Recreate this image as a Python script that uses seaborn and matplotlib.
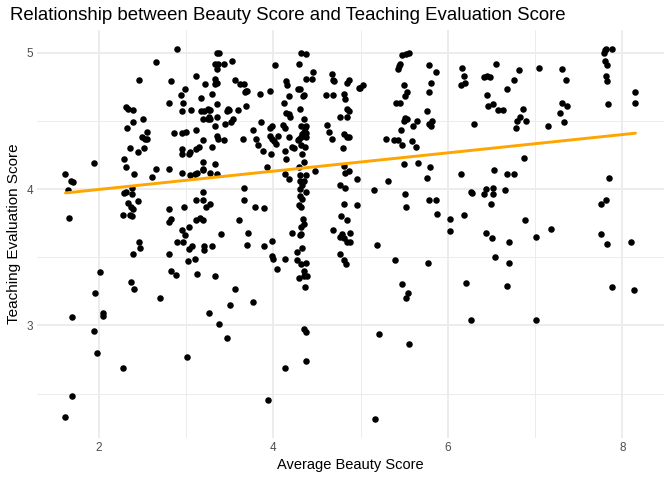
import numpy as np
import pandas as pd
import seaborn as sns
import matplotlib.pyplot as plt
from matplotlib.ticker import MultipleLocator

# average beauty score (x) and teaching evaluation score (y)
beauty = [
    # upper left
    2.90, 2.66, 2.46, 2.83, 3.12, 3.22, 2.99, 2.94, 3.17, 2.80, 2.97, 2.31, 2.34, 2.39, 2.96, 3.06, 3.17,
    3.21, 3.26, 2.51, 2.39, 3.19, 3.25, 2.32, 2.55, 2.50, 2.53, 2.55, 2.86, 2.95, 3.00, 3.12, 3.20, 2.36,
    2.52, 2.45, 2.95, 2.95, 3.03, 3.05, 3.11, 3.15, 2.29, 1.95, 2.31, 2.66, 2.80, 3.19, 3.20,
    # upper middle
    3.35, 3.38, 3.33, 3.37, 3.44, 3.53, 3.35, 4.02, 4.32, 4.37, 4.30, 4.46, 4.38, 4.44, 4.67, 4.69, 4.70, 4.84, 4.87, 4.98,
    3.33, 3.35, 3.33, 3.56, 3.62, 3.67, 3.30, 3.69, 3.70, 3.68, 3.85, 3.96, 4.15, 4.16, 4.28, 4.31, 4.18, 4.35, 4.34, 4.60, 4.69, 4.81, 4.82,
    3.36, 3.25, 3.28, 3.48, 3.49, 3.47, 3.60, 3.69, 4.12, 4.15, 4.18, 4.19, 4.31, 4.85, 4.87, 4.85, 4.77,
    3.26, 3.28, 3.35, 3.45, 3.52, 3.54, 3.33, 3.86, 3.98, 3.96, 4.11, 4.13, 4.35, 4.32, 4.36, 4.38, 4.62, 4.64,
    3.36, 3.37, 3.44, 3.65, 3.77, 3.80, 3.83, 3.88, 3.96, 3.98, 4.01, 4.03, 4.05, 4.13, 4.18, 4.22, 4.24,
    4.28, 4.30, 4.33, 4.35, 4.32, 4.37, 4.38, 4.32, 4.36, 3.97, 4.15, 4.33, 4.35, 4.67, 4.81, 4.84, 4.87, 4.80, 3.30, 3.33, 3.93, 4.81,
    # upper right
    5.48, 5.52, 5.55, 5.44, 5.45, 5.43, 5.79, 5.87, 6.16, 6.18, 6.20, 6.15, 6.55, 6.42, 6.45, 6.48, 6.68,
    4.99, 5.03, 5.50, 5.53, 5.51, 5.81, 5.79, 5.41, 5.45, 6.45, 6.46, 6.52, 6.58, 6.63, 5.76,
    5.51, 5.53, 5.50, 5.65, 5.60, 5.78, 5.82, 5.81, 6.30, 5.46, 5.29, 5.38, 5.43, 5.47, 5.59, 5.64, 5.50, 5.66, 5.80, 6.53,
    7.80, 7.81, 7.88, 7.79, 7.80, 7.82, 7.81, 7.82, 7.83, 8.15, 8.14, 7.04, 7.31, 7.35,
    6.82, 6.76, 7.31, 7.36, 7.28, 7.33, 7.15, 6.86, 6.79, 6.83, 6.89, 6.78, 6.87,
    # middle left
    1.62, 1.68, 1.71, 1.65, 1.66, 2.40, 2.96, 2.61, 3.05, 3.10, 3.13, 3.20, 2.38, 2.29, 2.31, 2.38, 2.34, 2.45, 2.37, 2.39,
    2.28, 2.36, 2.38, 2.80, 2.98, 2.83, 2.81, 3.19, 3.12, 3.19, 3.23, 3.11, 3.16, 3.19, 2.95, 2.99, 3.04, 2.90,
    2.97, 3.03, 3.07, 3.21, 3.21, 2.46, 2.47, 2.39, 2.81, 3.02, 3.10, 2.01, 2.83, 2.89, 3.13, 2.37, 2.40, 1.96,
    # middle
    3.28, 3.35, 4.13, 4.18, 4.29, 4.31, 4.37, 4.31, 4.35, 4.33, 4.31, 4.38, 4.31, 4.33, 4.29, 4.32,
    4.48, 4.82, 4.87, 4.96, 4.76, 4.82, 3.67, 3.66, 3.79, 3.89, 3.27, 3.61, 3.40, 3.71, 3.30, 3.70, 3.89, 3.98,
    3.99, 4.00, 4.14, 4.04, 4.34, 4.35, 4.32, 4.21, 4.32, 4.31, 4.33, 4.27, 4.27, 4.32, 4.37, 4.35, 4.30, 4.35, 4.39, 4.36,
    3.33, 3.56, 4.69, 4.79, 4.76, 4.81, 4.88, 4.85, 4.88, 4.78, 4.84, 4.81, 4.96, 4.76, 4.81, 4.83,
    # middle right
    5.32, 5.76, 6.15, 6.68, 5.15, 5.51, 5.52, 5.78, 5.87, 5.88, 6.26, 6.28, 6.44, 6.52, 6.42, 6.52, 6.66,
    6.49, 6.03, 6.18, 6.02, 6.44, 6.51, 6.70, 5.19, 5.39, 5.77, 6.54, 6.70, 5.47, 5.54, 6.21, 6.68,
    6.76, 7.85, 7.75, 7.81, 6.88, 7.18, 7.01, 7.76, 7.82, 8.10, 7.88, 8.13,
    # bottom
    2.70, 1.70, 2.05, 2.05, 3.26, 1.95, 1.98, 3.01, 2.28, 1.69, 1.62,
    3.50, 3.77, 3.38, 3.47, 4.35, 4.38, 4.38, 4.14, 3.94, 5.52, 6.27, 5.21, 5.56, 5.16, 7.01,
]

score = [
    # upper left
    5.03, 4.93, 4.80, 4.79, 4.83, 4.77, 4.73, 4.69, 4.67, 4.63, 4.63, 4.60, 4.59, 4.58, 4.57, 4.58, 4.57,
    4.57, 4.58, 4.51, 4.49, 4.51, 4.51, 4.45, 4.42, 4.38, 4.37, 4.37, 4.41, 4.41, 4.42, 4.43, 4.36, 4.30,
    4.30, 4.27, 4.29, 4.26, 4.26, 4.27, 4.29, 4.31, 4.22, 4.19, 4.16, 4.15, 4.15, 4.20, 4.15,
    # upper middle
    5.00, 5.00, 4.92, 4.92, 4.92, 4.94, 4.88, 4.91, 5.00, 4.99, 4.92, 4.86, 4.81, 4.81, 4.84, 4.80, 4.79, 4.78, 4.80, 4.74,
    4.81, 4.78, 4.77, 4.80, 4.77, 4.77, 4.70, 4.72, 4.72, 4.71, 4.70, 4.72, 4.79, 4.76, 4.73, 4.73, 4.68, 4.69, 4.68, 4.69, 4.69, 4.70, 4.66,
    4.62, 4.59, 4.58, 4.59, 4.58, 4.57, 4.58, 4.61, 4.63, 4.56, 4.55, 4.53, 4.59, 4.59, 4.57, 4.53, 4.53,
    4.53, 4.51, 4.53, 4.48, 4.49, 4.51, 4.46, 4.49, 4.46, 4.45, 4.47, 4.45, 4.51, 4.46, 4.45, 4.46, 4.47, 4.42,
    4.39, 4.37, 4.36, 4.37, 4.43, 4.37, 4.32, 4.28, 4.39, 4.37, 4.35, 4.33, 4.39, 4.28, 4.38, 4.31, 4.30,
    4.36, 4.37, 4.40, 4.42, 4.38, 4.38, 4.41, 4.32, 4.31, 4.26, 4.22, 4.26, 4.20, 4.37, 4.40, 4.38, 4.38, 4.30, 4.31, 4.18, 4.16, 4.17,
    # upper right
    4.98, 4.99, 5.00, 4.90, 4.92, 4.88, 4.91, 4.86, 4.89, 4.83, 4.78, 4.76, 4.92, 4.82, 4.83, 4.82, 4.73,
    4.74, 4.76, 4.76, 4.71, 4.68, 4.78, 4.71, 4.63, 4.63, 4.69, 4.61, 4.62, 4.58, 4.58, 4.57,
    4.52, 4.51, 4.50, 4.50, 4.46, 4.48, 4.50, 4.46, 4.48, 4.43, 4.37, 4.36, 4.36, 4.32, 4.35, 4.31, 4.18, 4.19, 4.16, 4.14,
    5.02, 5.03, 5.03, 5.00, 4.94, 4.91, 4.83, 4.79, 4.62, 4.71, 4.63, 4.89, 4.88, 4.80,
    4.87, 4.80, 4.63, 4.61, 4.56, 4.49, 4.46, 4.59, 4.50, 4.53, 4.50, 4.45, 4.23,
    # middle left
    4.11, 4.06, 4.05, 3.99, 3.79, 4.11, 4.12, 4.09, 4.10, 4.11, 4.12, 4.14, 4.01, 3.97, 3.98, 3.96, 3.90, 3.91, 3.87, 3.85,
    3.81, 3.81, 3.80, 3.85, 3.87, 3.78, 3.76, 3.98, 3.92, 3.92, 3.87, 3.77, 3.79, 3.77, 3.70, 3.66, 3.72, 3.61,
    3.61, 3.56, 3.58, 3.58, 3.55, 3.61, 3.57, 3.52, 3.52, 3.47, 3.49, 3.39, 3.40, 3.37, 3.38, 3.32, 3.27, 3.24,
    # middle
    4.12, 4.11, 4.11, 4.07, 4.16, 4.10, 4.10, 4.06, 4.06, 4.03, 4.00, 3.98, 3.95, 3.93, 3.88, 3.87,
    4.13, 4.12, 4.13, 4.07, 4.03, 4.01, 4.01, 3.92, 3.87, 3.86, 3.89, 3.77, 3.67, 3.68, 3.58, 3.59, 3.58, 3.62,
    3.51, 3.49, 3.49, 3.41, 3.78, 3.74, 3.72, 3.68, 3.67, 3.66, 3.57, 3.54, 3.48, 3.45, 3.46, 3.40, 3.35, 3.36, 3.36, 3.28,
    3.36, 3.27, 3.70, 3.67, 3.65, 3.64, 3.68, 3.61, 3.61, 3.80, 3.77, 3.89, 3.88, 3.52, 3.48, 3.45,
    # middle right
    4.06, 4.08, 4.11, 4.11, 3.99, 3.96, 3.87, 3.92, 3.92, 3.82, 3.98, 3.97, 4.00, 4.01, 3.96, 3.96, 3.99,
    3.89, 3.78, 3.81, 3.69, 3.68, 3.64, 3.61, 3.59, 3.48, 3.46, 3.50, 3.46, 3.30, 3.24, 3.31, 3.29,
    4.11, 4.08, 3.89, 3.92, 3.77, 3.71, 3.65, 3.67, 3.60, 3.61, 3.28, 3.26,
    # bottom
    3.20, 3.06, 3.09, 3.07, 3.09, 2.96, 2.80, 2.77, 2.69, 2.48, 2.33,
    3.15, 3.17, 3.01, 2.91, 2.97, 2.95, 2.74, 2.69, 2.45, 3.20, 3.04, 2.94, 2.86, 2.31, 3.04,
]

evals = pd.DataFrame({'bty_avg': beauty, 'score': score})

sns.set_theme(style="white")
plt.rcParams['font.family'] = ['Liberation Sans', 'DejaVu Sans']

fig = plt.figure(figsize=(6.72, 4.8), dpi=100)
ax = fig.add_axes([37/672, 42/480, 627/672, 408/480])

sns.regplot(data=evals, x='bty_avg', y='score', ci=None, ax=ax,
            scatter_kws={'color': 'black', 's': 22, 'linewidths': 0, 'alpha': 1},
            line_kws={'color': '#FFA500', 'linewidth': 2.1})

ax.margins(x=0.05, y=0.05)
ax.xaxis.set_major_locator(MultipleLocator(2))
ax.xaxis.set_minor_locator(MultipleLocator(1))
ax.yaxis.set_major_locator(MultipleLocator(1))
ax.yaxis.set_minor_locator(MultipleLocator(0.5))
ax.grid(which='major', color='#EBEBEB', linewidth=1.36)
ax.grid(which='minor', color='#EBEBEB', linewidth=0.68)
ax.set_axisbelow(True)
for sp in ax.spines.values():
    sp.set_visible(False)
ax.tick_params(which='both', length=0, labelsize=8.45, labelcolor='#4D4D4D', pad=3)

ax.set_xlabel('Average Beauty Score', fontsize=10.56, color='black', labelpad=3)
ax.set_ylabel('Teaching Evaluation Score', fontsize=11, color='black', labelpad=4)
fig.text(10/672, 1 - 15.5/480, 'Relationship between Beauty Score and Teaching Evaluation Score',
         fontsize=13.4, ha='left', va='center', color='black')

fig.savefig('out.png', dpi=100)
